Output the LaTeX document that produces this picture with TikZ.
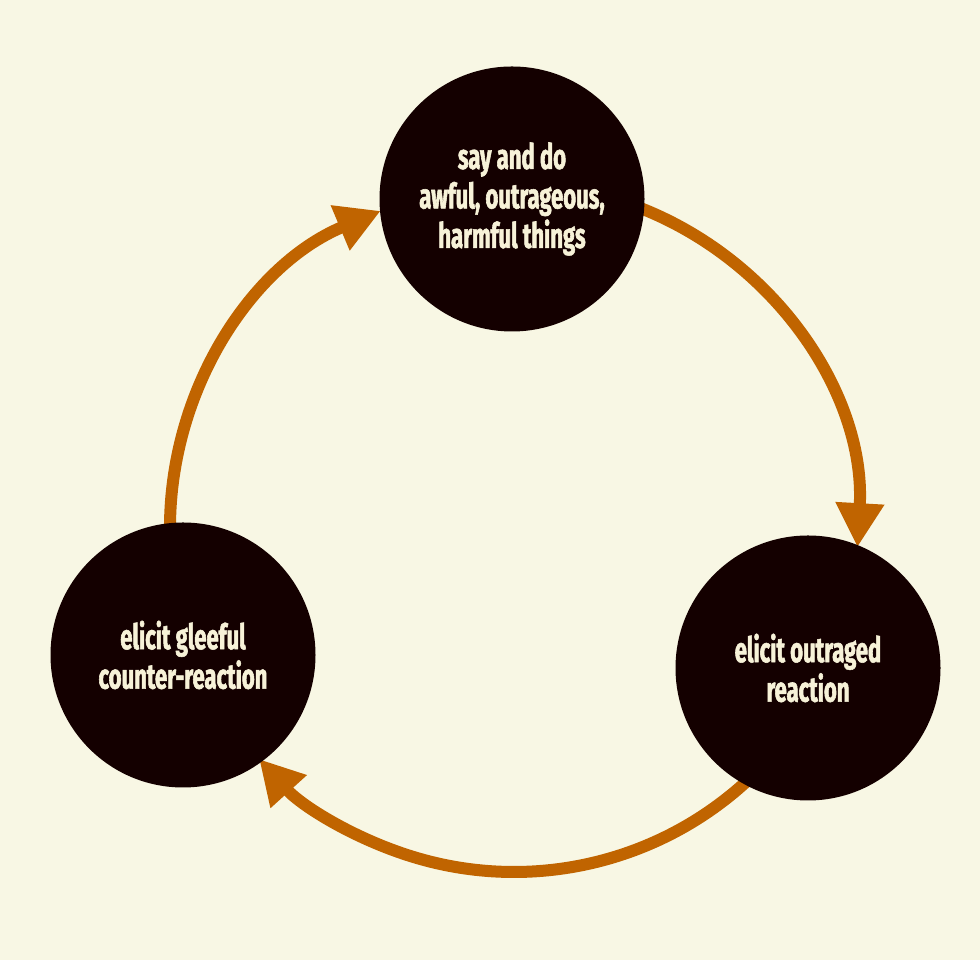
\documentclass[tikz,border=0pt]{standalone}
\usepackage{fontspec}
\newfontfamily\cyclefont[FakeStretch=0.63,FakeBold=1.6]{Fira Sans}
\usetikzlibrary{arrows.meta}

\definecolor{paper}{HTML}{F8F7E4}
\definecolor{ink}{HTML}{140000}
\definecolor{cream}{HTML}{F7F2D8}
\definecolor{rust}{HTML}{C06400}

\begin{document}
\begin{tikzpicture}[x=1pt,y=1pt,
    phase/.style={circle,fill=ink,minimum size=265pt,inner sep=0pt,
      text=cream,align=center,
      font=\cyclefont\bfseries\fontsize{35}{39.5}\selectfont},
    cycle arrow/.style={draw=rust,line width=12pt,
      -{Triangle[width=46pt,length=44pt]}}]
            \fill[paper] (0,0) rectangle (980,960);
            \coordinate (O) at (514,432);
            \coordinate (S out) at ([shift={(72:344)}]O);
            \coordinate (R out) at ([shift={(-46:344)}]O);
            \coordinate (G out) at ([shift={(183:344)}]O);
            \path[cycle arrow] (S out) arc[start angle=72,end angle=-3.2,radius=344];
            \path[cycle arrow] (R out) arc[start angle=-46,end angle=-137.8,radius=344];
            \path[cycle arrow] (G out) arc[start angle=183,end angle=112.8,radius=344];
            \node[phase] (S) at (512,761) {say and do\\awful, outrageous,\\harmful things};
            \node[phase] (R) at (808,292) {elicit outraged\\reaction};
            \node[phase] (G) at (183,305) {elicit gleeful\\counter-reaction};
        \end{tikzpicture}
\end{document}
